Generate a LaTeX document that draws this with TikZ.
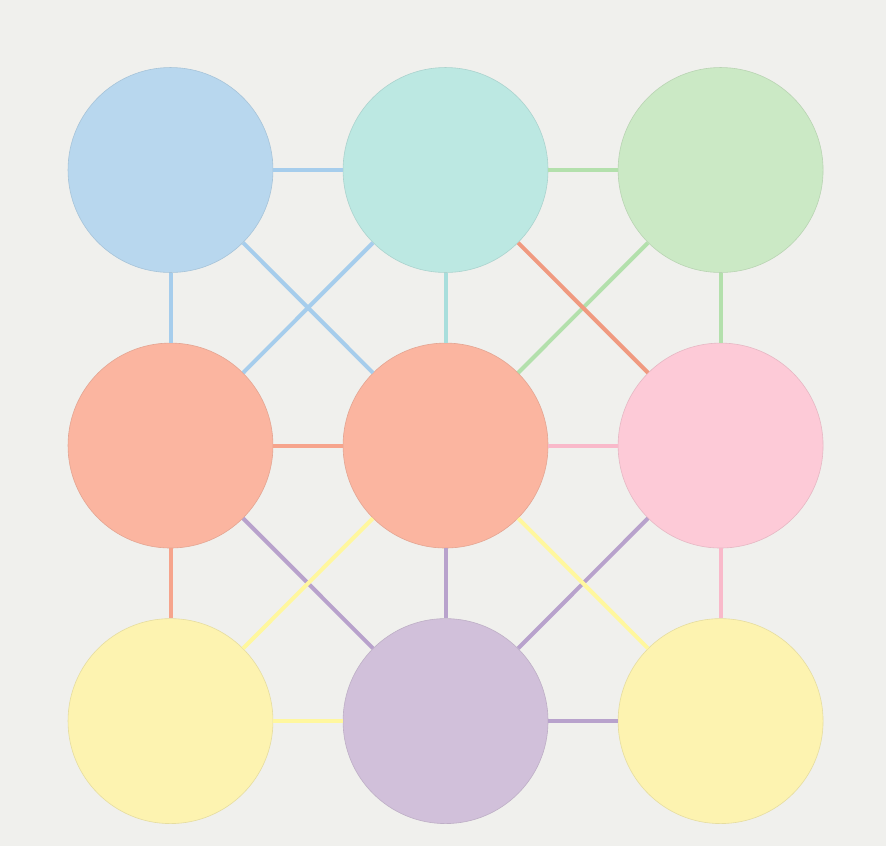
\documentclass[tikz,border=0pt]{standalone}
\usetikzlibrary{positioning}

\definecolor{bgcol}{HTML}{F0F0ED}
\definecolor{dotblue}{HTML}{B8D7EE}
\definecolor{dotcyan}{HTML}{BCE8E2}
\definecolor{dotgreen}{HTML}{CBE9C5}
\definecolor{dotsalmon}{HTML}{FBB5A0}
\definecolor{dotpink}{HTML}{FDCAD7}
\definecolor{dotyellow}{HTML}{FDF3B0}
\definecolor{dotlav}{HTML}{D1C0DA}
\definecolor{lnblue}{HTML}{A6CDEC}
\definecolor{lncyan}{HTML}{A8DEDC}
\definecolor{lngreen}{HTML}{B3E0AC}
\definecolor{lnsalmon}{HTML}{F6A48C}
\definecolor{lnorange}{HTML}{F09A80}
\definecolor{lnpink}{HTML}{F9B9CA}
\definecolor{lnyellow}{HTML}{FFF79E}
\definecolor{lnpurple}{HTML}{B8A2CC}

\tikzset{
  dot/.style={circle, minimum size=4.1cm, inner sep=0pt, line width=0.012cm},
  link/.style={line width=0.08cm}
}

\begin{document}
\begin{tikzpicture}[x=0.02cm, y=-0.02cm]
            % background of the picture
            \fill [bgcol] (0,0) rectangle (886,846);%

            % Marking the nine dots
            \node [dot, fill=dotblue, draw=dotblue!85!black!60!dotblue] (tl) at (170.5,170) {};%
            \node [dot, fill=dotcyan, draw=dotcyan!85!black!60!dotcyan, right=1.39cm of tl] (tm) {};%
            \node [dot, fill=dotgreen, draw=dotgreen!85!black!60!dotgreen, right=1.39cm of tm] (tr) {};%
            \node [dot, fill=dotsalmon, draw=dotsalmon!85!black!60!dotsalmon, below=1.4cm of tl] (ml) {};%
            \node [dot, fill=dotsalmon, draw=dotsalmon!85!black!60!dotsalmon, below=1.4cm of tm] (mm) {};%
            \node [dot, fill=dotpink, draw=dotpink!85!black!60!dotpink, below=1.4cm of tr] (mr) {};%
            \node [dot, fill=dotyellow, draw=dotyellow!85!black!60!dotyellow, below=1.4cm of ml] (bl) {};%
            \node [dot, fill=dotlav, draw=dotlav!85!black!60!dotlav, below=1.4cm of mm] (bm) {};%
            \node [dot, fill=dotyellow, draw=dotyellow!85!black!60!dotyellow, below=1.4cm of mr] (br) {};%

            % Drawing links of the top row
            \draw [link, lnblue] (tl) -- (tm);%
            \draw [link, lngreen] (tm) -- (tr);%
            \draw [link, lnblue] (tl) -- (ml);%
            \draw [link, lncyan] (tm) -- (mm);%
            \draw [link, lngreen] (tr) -- (mr);%
            \draw [link, lnblue] (tl) -- (mm);%
            \draw [link, lnblue] (tm) -- (ml);%
            \draw [link, lngreen] (tr) -- (mm);%
            \draw [link, lnorange] (tm) -- (mr);%

            % Drawing links of the middle row
            \draw [link, lnsalmon] (ml) -- (mm);%
            \draw [link, lnpink] (mm) -- (mr);%
            \draw [link, lnsalmon] (ml) -- (bl);%
            \draw [link, lnpurple] (mm) -- (bm);%
            \draw [link, lnpink] (mr) -- (br);%
            \draw [link, lnpurple] (ml) -- (bm);%
            \draw [link, lnpurple] (mr) -- (bm);%
            \draw [link, lnyellow] (mm) -- (bl);%
            \draw [link, lnyellow] (mm) -- (br);%

            % Drawing links of the bottom row
            \draw [link, lnyellow] (bl) -- (bm);%
            \draw [link, lnpurple] (bm) -- (br);%
\end{tikzpicture}
\end{document}
